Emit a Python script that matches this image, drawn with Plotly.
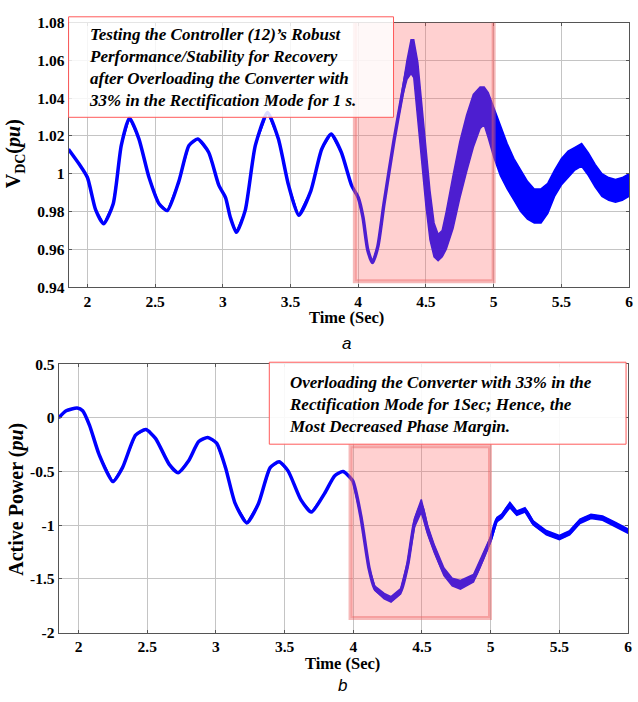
import plotly.graph_objects as go

W, H = 638, 702

# ---------------- data: panel a (DC voltage) ----------------
t_vdc = [1.86, 1.94, 2.00, 2.06, 2.12, 2.19, 2.25, 2.31, 2.38, 2.455,
         2.53, 2.59, 2.675, 2.75, 2.815, 2.895, 2.97, 3.02, 3.055, 3.10,
         3.165, 3.24, 3.33, 3.41, 3.485, 3.56, 3.65, 3.73, 3.80, 3.875,
         3.95, 4.00, 4.035, 4.07, 4.105, 4.145, 4.19, 4.265,
         4.33, 4.36, 4.39, 4.41, 4.44, 4.47, 4.50, 4.53, 4.56, 4.59,
         4.62, 4.65, 4.70, 4.75, 4.80, 4.85, 4.90, 4.93, 4.96, 5.00,
         5.05, 5.10, 5.15, 5.20, 5.25, 5.30, 5.35, 5.40, 5.45, 5.50,
         5.55, 5.60, 5.65, 5.70, 5.75, 5.80, 5.85, 5.90, 5.95, 6.00]
vdc = [1.013, 1.005, 0.998, 0.981, 0.9735, 0.984, 1.015, 1.0295, 1.0185, 0.998,
       0.984, 0.9805, 0.996, 1.015, 1.0184, 1.0114, 0.994, 0.9874, 0.977, 0.969,
       0.9805, 1.015, 1.0325, 1.0185, 0.994, 0.978, 0.991, 1.013, 1.021, 1.0114,
       0.994, 0.9874, 0.977, 0.9598, 0.953, 0.9616, 0.984, 1.018,
       1.044, 1.055, 1.062, 1.061, 1.045, 1.022, 0.998, 0.978, 0.965, 0.961,
       0.963, 0.970, 0.985, 1.002, 1.016, 1.028, 1.035, 1.036, 1.031, 1.022,
       1.012, 1.004, 0.997, 0.991, 0.986, 0.983, 0.983, 0.987, 0.995, 1.001,
       1.005, 1.008, 1.010, 1.005, 0.999, 0.994, 0.992, 0.991, 0.992, 0.994]
# half-width of the high-frequency ripple band
vdc_ripple = [0, 0, 0, 0, 0, 0, 0, 0, 0, 0,
              0, 0, 0, 0, 0, 0, 0, 0, 0, 0,
              0, 0, 0, 0, 0, 0, 0, 0, 0, 0,
              0, 0, 0, 0, 0, 0, 0, 0,
              0.002, 0.005, 0.009, 0.010, 0.014, 0.015, 0.015, 0.013, 0.009, 0.007,
              0.007, 0.010, 0.014, 0.015, 0.015, 0.014, 0.011, 0.010, 0.012, 0.013,
              0.013, 0.012, 0.011, 0.011, 0.010, 0.009, 0.009, 0.008, 0.007, 0.007,
              0.007, 0.006, 0.006, 0.006, 0.006, 0.006, 0.006, 0.006, 0.006, 0.006]

# ---------------- data: panel b (active power) ----------------
t_p = [1.855, 1.91, 1.99, 2.03, 2.08, 2.15, 2.25, 2.32, 2.415, 2.49,
       2.56, 2.66, 2.725, 2.80, 2.875, 2.94, 3.005, 3.07, 3.14, 3.225,
       3.31, 3.395, 3.46, 3.525, 3.62, 3.695, 3.79, 3.865, 3.925, 3.995,
       4.055, 4.115, 4.155, 4.225, 4.275, 4.345, 4.395, 4.445, 4.495, 4.54,
       4.59, 4.66, 4.72, 4.78, 4.875, 4.95, 5.00, 5.045, 5.08, 5.14,
       5.19, 5.25, 5.31, 5.405, 5.50, 5.575, 5.65, 5.73, 5.815, 5.91,
       6.00]
p_act = [0.0, 0.066, 0.091, 0.066, -0.07, -0.343, -0.594, -0.464, -0.161, -0.109,
         -0.191, -0.433, -0.512, -0.403, -0.221, -0.182, -0.236, -0.464, -0.797, -0.979,
         -0.797, -0.464, -0.409, -0.494, -0.767, -0.878, -0.706, -0.539, -0.50, -0.585,
         -0.918, -1.403, -1.585, -1.661, -1.691, -1.615, -1.373, -0.979, -0.82, -1.039,
         -1.221, -1.434, -1.53, -1.555, -1.494, -1.282, -1.13, -0.948, -0.918, -0.812,
         -0.888, -0.857, -0.979, -1.07, -1.115, -1.07, -0.964, -0.918, -0.934, -0.994,
         -1.055]
p_ripple = [0, 0, 0, 0, 0, 0, 0, 0, 0, 0,
            0, 0, 0, 0, 0, 0, 0, 0, 0, 0,
            0, 0, 0, 0, 0, 0, 0, 0, 0, 0,
            0, 0.01, 0.02, 0.025, 0.025, 0.025, 0.03, 0.04, 0.06, 0.04,
            0.035, 0.035, 0.035, 0.04, 0.035, 0.03, 0.025, 0.02, 0.02, 0.025,
            0.02, 0.02, 0.02, 0.02, 0.02, 0.02, 0.02, 0.02, 0.02, 0.02,
            0.02]

assert len(t_vdc) == len(vdc) == len(vdc_ripple)
assert len(t_p) == len(p_act) == len(p_ripple)

# ticks
x_tickvals = [2, 2.5, 3, 3.5, 4, 4.5, 5, 5.5, 6]
x_ticktext = ["2", "2.5", "3", "3.5", "4", "4.5", "5", "5.5", "6"]
vdc_tickvals = [0.94, 0.96, 0.98, 1.0, 1.02, 1.04, 1.06, 1.08]
vdc_ticktext = ["0.94", "0.96", "0.98", "1", "1.02", "1.04", "1.06", "1.08"]
p_tickvals = [-2, -1.5, -1, -0.5, 0, 0.5]
p_ticktext = ["-2", "-1.5", "-1", "-0.5", "0", "0.5"]

# overload windows (highlighted)
win_a = [3.975, 5.0, 0.9431, 1.0826]
win_b = [3.98, 4.995, -1.864, -0.264]


def PX(x):
    return x / W


def PY(y):
    return 1 - y / H


BLUE = "#0000ff"
SERIF = "Liberation Serif"


def band(t, v, r, xa, ya):
    up = [a + b for a, b in zip(v, r)]
    lo = [a - b for a, b in zip(v, r)]
    return go.Scatter(x=list(t) + list(t)[::-1], y=up + lo[::-1], fill="toself",
                      fillcolor=BLUE, line=dict(color=BLUE, width=1.5),
                      mode="lines", xaxis=xa, yaxis=ya, hoverinfo="skip",
                      showlegend=False)


fig = go.Figure()
fig.add_trace(band(t_vdc, vdc, vdc_ripple, "x", "y"))
fig.add_trace(go.Scatter(x=t_vdc, y=vdc, mode="lines",
                         line=dict(color=BLUE, width=3.5, shape="spline", smoothing=0.6),
                         xaxis="x", yaxis="y", showlegend=False))
fig.add_trace(band(t_p, p_act, p_ripple, "x2", "y2"))
fig.add_trace(go.Scatter(x=t_p, y=p_act, mode="lines",
                         line=dict(color=BLUE, width=3.5, shape="spline", smoothing=0.6),
                         xaxis="x2", yaxis="y2", showlegend=False))

tickfont = dict(family=SERIF, size=15.5, color="black", weight="bold")
axcommon = dict(showgrid=True, gridcolor="#c4c4c4", gridwidth=1,
                showline=True, linecolor="#555555", linewidth=1, mirror="allticks",
                ticks="inside", ticklen=3, tickcolor="#555555",
                tickfont=tickfont, zeroline=False)

fig.update_layout(
    width=W, height=H,
    margin=dict(l=0, r=0, t=0, b=0),
    paper_bgcolor="white", plot_bgcolor="white",
    showlegend=False,
    xaxis=dict(domain=[PX(69), PX(633)], anchor="y", range=[1.8606, 6],
               tickvals=x_tickvals, ticktext=x_ticktext, **axcommon),
    yaxis=dict(domain=[PY(285), PY(14)], anchor="x", range=[0.94, 1.08],
               tickvals=vdc_tickvals, ticktext=vdc_ticktext, **axcommon),
    xaxis2=dict(domain=[PX(59), PX(632)], anchor="y2", range=[1.855, 6],
                tickvals=x_tickvals, ticktext=x_ticktext, **axcommon),
    yaxis2=dict(domain=[PY(639), PY(364)], anchor="x2", range=[-2, 0.5],
                tickvals=p_tickvals, ticktext=p_ticktext, **axcommon),
)

shapes = []
pink_fill = "rgba(255,100,100,0.30)"
pink_line = "rgba(235,100,100,0.45)"
shapes.append(dict(type="rect", xref="x", yref="y", x0=win_a[0], x1=win_a[1],
                   y0=win_a[2], y1=win_a[3], fillcolor=pink_fill,
                   line=dict(color=pink_line, width=4), layer="above"))
shapes.append(dict(type="rect", xref="x2", yref="y2", x0=win_b[0], x1=win_b[1],
                   y0=win_b[2], y1=win_b[3], fillcolor=pink_fill,
                   line=dict(color=pink_line, width=4), layer="above"))
# text boxes
shapes.append(dict(type="rect", xref="paper", yref="paper",
                   x0=PX(69), x1=PX(396), y0=PY(111), y1=PY(8),
                   fillcolor="rgba(255,255,255,0.85)",
                   line=dict(color="#ff5a5a", width=1), layer="above"))
shapes.append(dict(type="rect", xref="paper", yref="paper",
                   x0=PX(271), x1=PX(630), y0=PY(446), y1=PY(362),
                   fillcolor="rgba(255,255,255,0.9)",
                   line=dict(color="#ff5a5a", width=1), layer="above"))
fig.update_layout(shapes=shapes)

box_font = dict(family=SERIF, size=17, color="black")
ann = []
ann.append(dict(xref="paper", yref="paper", x=PX(88), y=PY(60),
                xanchor="left", yanchor="middle", align="left", showarrow=False,
                font=box_font,
                text="<b><i>Testing the Controller (12)’s Robust<br>"
                     "Performance/Stability for Recovery<br>"
                     "after Overloading the Converter with<br>"
                     "33% in the Rectification Mode for 1 s.</i></b>"))
ann.append(dict(xref="paper", yref="paper", x=PX(289), y=PY(405),
                xanchor="left", yanchor="middle", align="left", showarrow=False,
                font=box_font,
                text="<b><i>Overloading the Converter with 33% in the<br>"
                     "Rectification Mode for 1Sec; Hence, the<br>"
                     "Most Decreased Phase Margin.</i></b>"))
title_font = dict(family=SERIF, size=16.5, color="black")
ylab_font = dict(family=SERIF, size=20, color="black")
ann.append(dict(xref="paper", yref="paper", x=PX(349), y=PY(316),
                xanchor="center", yanchor="middle", showarrow=False,
                font=title_font, text="<b>Time (Sec)</b>"))
ann.append(dict(xref="paper", yref="paper", x=PX(345), y=PY(671),
                xanchor="center", yanchor="middle", showarrow=False,
                font=title_font, text="<b>Time (Sec)</b>"))
ann.append(dict(xref="paper", yref="paper", x=PX(15), y=PY(148),
                xanchor="center", yanchor="middle", showarrow=False, textangle=-90,
                font=ylab_font, text="<b>V<sub>DC</sub>(<i>pu</i>)</b>"))
ann.append(dict(xref="paper", yref="paper", x=PX(17), y=PY(502),
                xanchor="center", yanchor="middle", showarrow=False, textangle=-90,
                font=ylab_font, text="<b>Active Power (<i>pu</i>)</b>"))
cap_font = dict(family="Liberation Sans", size=17, color="black")
ann.append(dict(xref="paper", yref="paper", x=PX(349), y=PY(343),
                xanchor="center", yanchor="middle", showarrow=False,
                font=cap_font, text="<i>a</i>"))
ann.append(dict(xref="paper", yref="paper", x=PX(345), y=PY(693),
                xanchor="center", yanchor="middle", showarrow=False,
                font=cap_font, text="<i>b</i>"))
fig.update_layout(annotations=ann)

fig.write_html("out.html")
